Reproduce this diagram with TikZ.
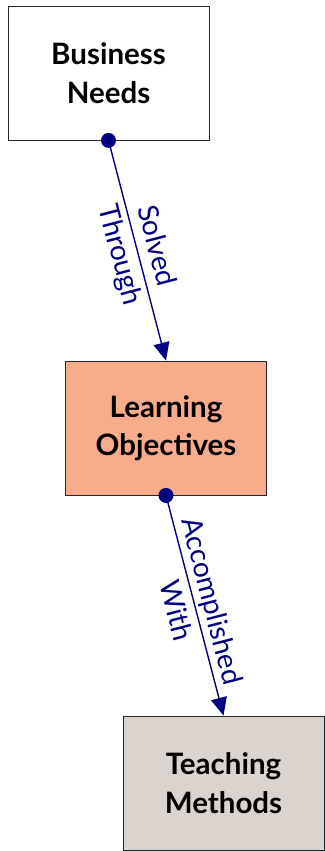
\documentclass[tikz,border=0pt]{standalone}
\usepackage{fontspec}
\setmainfont{Lato}
\usetikzlibrary{arrows.meta}
\definecolor{navyc}{RGB}{0,0,128}
\definecolor{salmonc}{RGB}{249,172,139}
\definecolor{greyc}{RGB}{218,211,206}
\begin{document}
\begin{tikzpicture}[x=1pt,y=-1pt,
  box/.style={draw=black!85,line width=0.8pt,minimum width=201pt,minimum height=134pt,inner sep=0pt,align=center,font=\fontsize{29.5}{38.5}\selectfont\bfseries},
  conn/.style={draw=navyc,line width=1.4pt,-{Triangle[length=18pt,width=16pt]}},
  lbl/.style={sloped,align=center,text=navyc,inner sep=0pt,font=\fontsize{28}{37}\selectfont},
  dotc/.style={fill=navyc}]
\useasboundingbox (0,0) rectangle (324,851);
\node[box,fill=white] (bn) at (108.5,73) {Business\\Needs};
\node[box,fill=salmonc] (lo) at (166,428) {Learning\\Objectives};
\node[box,fill=greyc] (tm) at (223.5,783) {Teaching\\Methods};
\draw[conn] (bn.south) -- node[lbl] {Solved\\Through} (lo.north);
\draw[conn] (lo.south) -- node[lbl] {Accomplished\\With} (tm.north);
\fill[dotc] (bn.south) circle [radius=7.5pt];
\fill[dotc] (lo.south) circle [radius=7.5pt];
\end{tikzpicture}
\end{document}
